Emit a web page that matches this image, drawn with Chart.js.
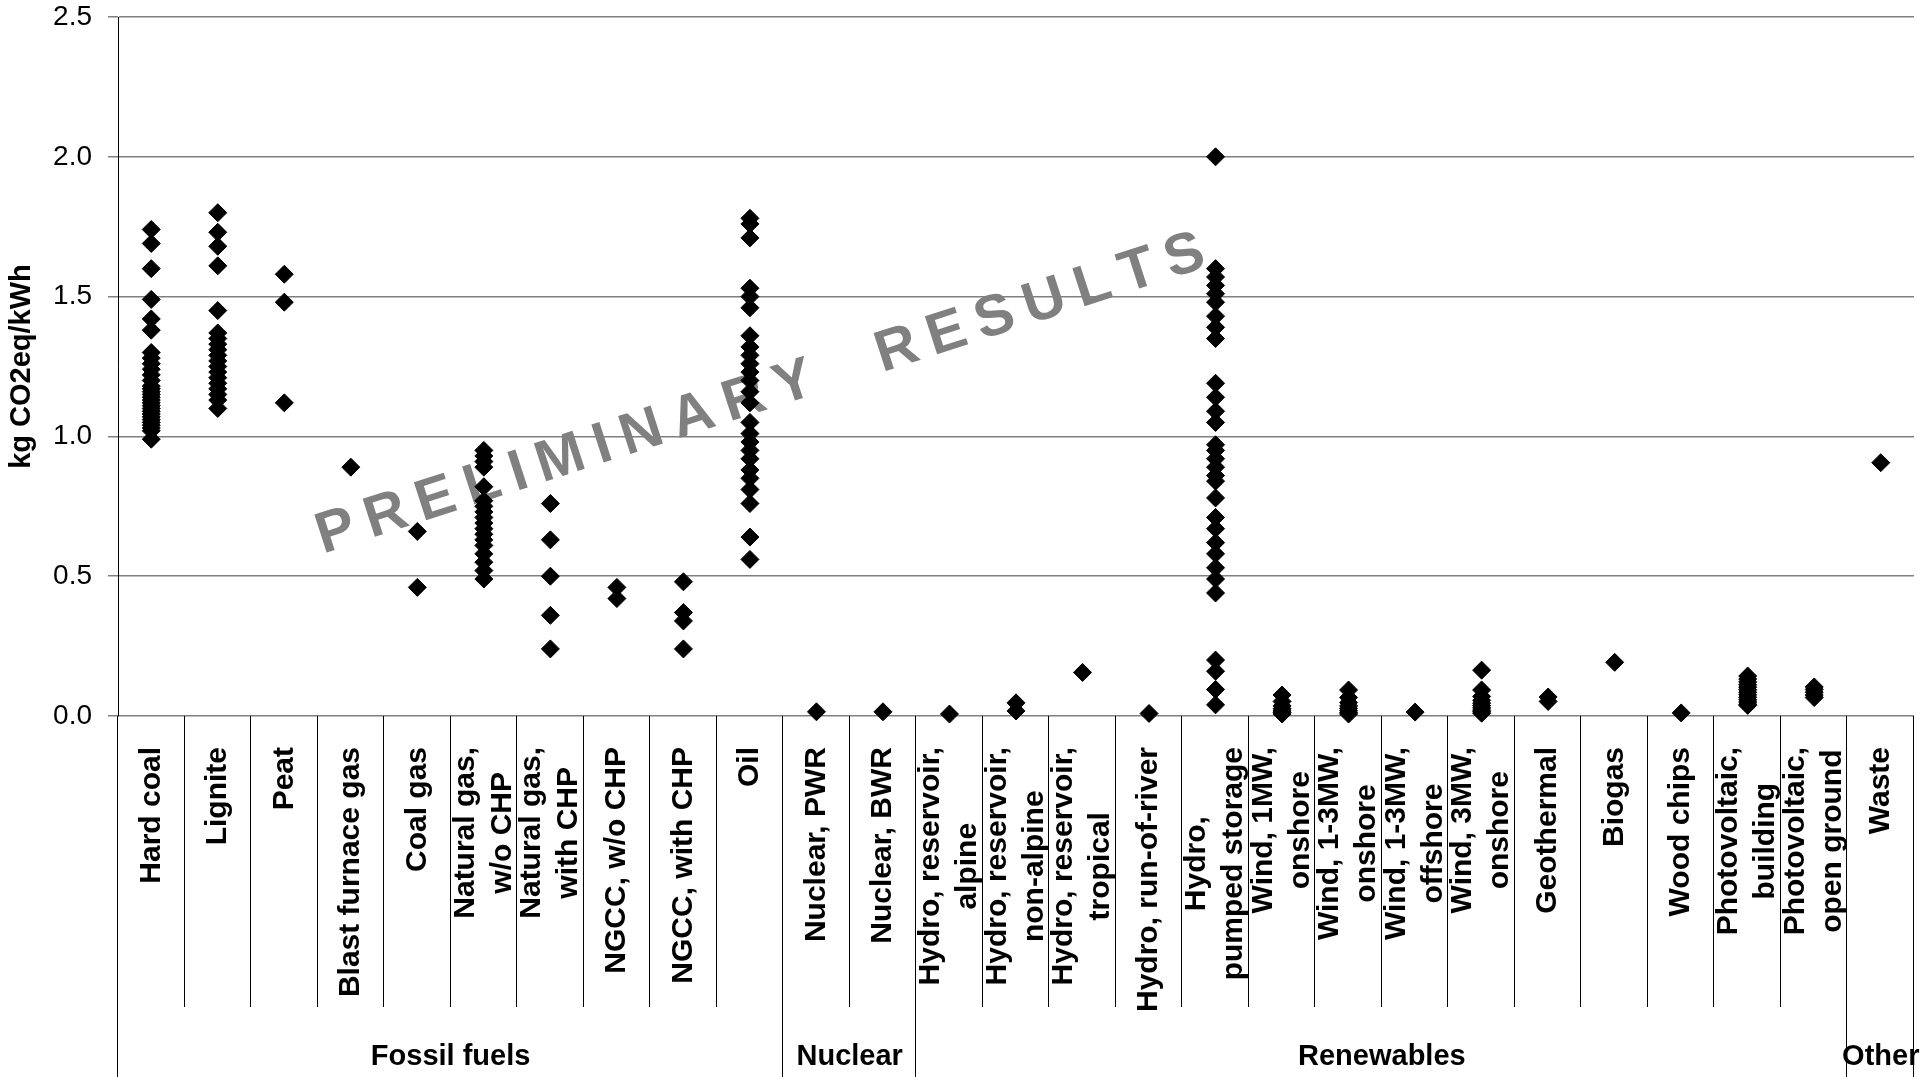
<!DOCTYPE html>
<html><head><meta charset="utf-8">
<script src="https://cdn.jsdelivr.net/npm/chart.js@4.4.1/dist/chart.umd.min.js"></script>
<style>html,body{margin:0;padding:0;background:#fff;overflow:hidden}canvas{display:block}</style>
</head><body>
<canvas id="c" width="1924" height="1077"></canvas>
<script>
const FONT = "'Liberation Sans', Arial, Helvetica, sans-serif";

// ---- categories and tick labels ----
const categories = [
  'Hard coal','Lignite','Peat','Blast furnace gas','Coal gas',
  'Natural gas, w/o CHP','Natural gas, with CHP','NGCC, w/o CHP','NGCC, with CHP','Oil',
  'Nuclear, PWR','Nuclear, BWR',
  'Hydro, reservoir, alpine','Hydro, reservoir, non-alpine','Hydro, reservoir, tropical',
  'Hydro, run-of-river','Hydro, pumped storage','Wind, 1MW, onshore','Wind, 1-3MW, onshore',
  'Wind, 1-3MW, offshore','Wind, 3MW, onshore','Geothermal','Biogas','Wood chips',
  'Photovoltaic, building','Photovoltaic, open ground','Waste'
];
const tickLabels = [
  ['Hard coal'],['Lignite'],['Peat'],['Blast furnace gas'],['Coal gas'],
  ['Natural gas,','w/o CHP'],['Natural gas,','with CHP'],['NGCC, w/o CHP'],['NGCC, with CHP'],['Oil'],
  ['Nuclear, PWR'],['Nuclear, BWR'],
  ['Hydro, reservoir,','alpine'],['Hydro, reservoir,','non-alpine'],['Hydro, reservoir,','tropical'],
  ['Hydro, run-of-river'],['Hydro,','pumped storage'],['Wind, 1MW,','onshore'],['Wind, 1-3MW,','onshore'],
  ['Wind, 1-3MW,','offshore'],['Wind, 3MW,','onshore'],['Geothermal'],['Biogas'],['Wood chips'],
  ['Photovoltaic,','building'],['Photovoltaic,','open ground'],['Waste']
];
const groupNames = ['Fossil fuels','Nuclear','Renewables','Other'];
const groupFirst = [0, 10, 12, 26];
const groupLast  = [9, 11, 25, 26];

const yTicks = [0.0, 0.5, 1.0, 1.5, 2.0, 2.5];

// ---- series values (kg CO2eq/kWh) ----
const hardCoal = [1.74,1.69,1.60,1.49,1.42,1.38,1.30,1.28,1.26,1.24,1.22,1.20,1.18,1.17,1.16,1.15,1.14,1.13,1.12,1.11,1.10,1.09,1.08,1.07,1.06,1.05,1.04,1.03,1.02,0.99];
const lignite = [1.80,1.73,1.68,1.61,1.45,1.37,1.35,1.33,1.31,1.29,1.27,1.25,1.23,1.21,1.19,1.17,1.15,1.13,1.10];
const peat = [1.58,1.48,1.12];
const blastFurnaceGas = [0.89];
const coalGas = [0.66,0.46];
const naturalGasWoCHP = [0.95,0.93,0.91,0.89,0.82,0.77,0.75,0.73,0.71,0.69,0.67,0.65,0.63,0.61,0.58,0.55,0.52,0.49];
const naturalGasWithCHP = [0.76,0.63,0.50,0.36,0.24];
const ngccWoCHP = [0.46,0.42];
const ngccWithCHP = [0.48,0.37,0.34,0.24];
const oil = [1.78,1.76,1.71,1.53,1.50,1.46,1.36,1.32,1.29,1.26,1.23,1.20,1.16,1.12,1.05,1.01,0.98,0.95,0.92,0.88,0.85,0.81,0.76,0.64,0.56];
const nuclearPWR = [0.015];
const nuclearBWR = [0.015];
const hydroAlpine = [0.007];
const hydroNonAlpine = [0.047,0.018];
const hydroTropical = [0.156];
const hydroRunOfRiver = [0.009];
const hydroPumped = [2.00,1.60,1.57,1.54,1.51,1.48,1.43,1.39,1.35,1.19,1.14,1.09,1.05,0.97,0.95,0.92,0.89,0.86,0.84,0.78,0.71,0.67,0.62,0.58,0.53,0.49,0.44,0.20,0.16,0.095,0.04];
const wind1MWOn = [0.075,0.052,0.036,0.026,0.018,0.012,0.007];
const wind13MWOn = [0.093,0.066,0.048,0.036,0.027,0.019,0.012,0.007];
const wind13MWOff = [0.014];
const wind3MWOn = [0.164,0.093,0.070,0.056,0.046,0.037,0.029,0.021,0.015,0.010];
const geothermal = [0.068,0.052];
const biogas = [0.192];
const woodChips = [0.011];
const pvBuilding = [0.143,0.132,0.122,0.112,0.103,0.094,0.085,0.076,0.067,0.058,0.050,0.042,0.038];
const pvOpenGround = [0.104,0.095,0.085,0.075,0.066];
const waste = [0.906];

const seriesValues = [hardCoal,lignite,peat,blastFurnaceGas,coalGas,naturalGasWoCHP,naturalGasWithCHP,
  ngccWoCHP,ngccWithCHP,oil,nuclearPWR,nuclearBWR,hydroAlpine,hydroNonAlpine,hydroTropical,
  hydroRunOfRiver,hydroPumped,wind1MWOn,wind13MWOn,wind13MWOff,wind3MWOn,geothermal,biogas,
  woodChips,pvBuilding,pvOpenGround,waste];

const WM_TEXT = 'PRELIMINARY  RESULTS';

// ---- plugins ----
const watermark = {
  id: 'watermark',
  beforeDatasetsDraw(chart) {
    const ca = chart.chartArea, ctx = chart.ctx;
    const cx = ca.left + 0.357 * (ca.right - ca.left);
    const cy = ca.top + 0.534 * (ca.bottom - ca.top);
    const size = 58, sp = 12;
    ctx.save();
    ctx.font = `bold ${size}px ${FONT}`;
    ctx.fillStyle = '#808080';
    ctx.textAlign = 'left';
    ctx.textBaseline = 'alphabetic';
    const chars = [...WM_TEXT];
    const widths = chars.map(c => ctx.measureText(c).width);
    const total = widths.reduce((a, b) => a + b, 0) + sp * (chars.length - 1);
    ctx.translate(cx, cy);
    ctx.rotate(-18 * Math.PI / 180);
    let x = -total / 2;
    const capH = 0.716 * size;
    chars.forEach((c, k) => { ctx.fillText(c, x, capH / 2); x += widths[k] + sp; });
    ctx.restore();
  }
};

const axisDeco = {
  id: 'axisDeco',
  afterDraw(chart) {
    const ctx = chart.ctx, xs = chart.scales.x, ca = chart.chartArea;
    const H = chart.height;
    const n = categories.length;
    const edges = new Set();
    groupFirst.forEach(g => edges.add(g));
    groupLast.forEach(g => edges.add(g + 1));
    ctx.save();
    ctx.strokeStyle = '#000';
    ctx.lineWidth = 1;
    for (let j = 0; j <= n; j++) {
      const x = Math.round(xs.getPixelForValue(j - 0.5)) - 0.5;
      const yEnd = edges.has(j) ? H : ca.bottom + 291;
      ctx.beginPath();
      ctx.moveTo(x, ca.bottom);
      ctx.lineTo(x, yEnd);
      ctx.stroke();
    }
    // category labels
    ctx.fillStyle = '#000';
    ctx.font = `bold 30px ${FONT}`;
    ctx.textAlign = 'center';
    ctx.textBaseline = 'middle';
    const LH = 37, gap = 31;
    tickLabels.forEach((lines, i) => {
      const cx = xs.getPixelForValue(i);
      const maxW = Math.max(...lines.map(l => ctx.measureText(l).width));
      const yc = ca.bottom + gap + maxW / 2;
      lines.forEach((ln, k) => {
        const x = cx + (k - (lines.length - 1) / 2) * LH;
        ctx.save();
        ctx.translate(x, yc);
        ctx.rotate(-Math.PI / 2);
        ctx.fillText(ln, 0, 0);
        ctx.restore();
      });
    });
    // group labels
    ctx.font = `bold 29px ${FONT}`;
    groupNames.forEach((g, k) => {
      const x = (xs.getPixelForValue(groupFirst[k]) + xs.getPixelForValue(groupLast[k])) / 2;
      ctx.fillText(g, x, ca.bottom + 341);
    });
    ctx.restore();
  }
};

const points = [];
seriesValues.forEach((vals, i) => vals.forEach(v => points.push({ x: categories[i], y: v })));

new Chart(document.getElementById('c'), {
  type: 'line',
  data: {
    labels: categories,
    datasets: [{
      data: points,
      showLine: false,
      clip: false,
      pointStyle: 'rectRot',
      pointRadius: 9,
      pointBackgroundColor: '#000',
      pointBorderColor: '#000',
      pointBorderWidth: 1
    }]
  },
  options: {
    responsive: false,
    animation: false,
    devicePixelRatio: 1,
    events: [],
    layout: { padding: { top: 0, right: 4, left: 0, bottom: 0 } },
    plugins: { legend: { display: false }, tooltip: { enabled: false } },
    scales: {
      x: {
        type: 'category',
        labels: categories,
        offset: true,
        grid: { display: false },
        border: { display: false },
        ticks: { display: false },
        afterFit(s) { s.height = 361; }
      },
      y: {
        min: 0, max: 2.5,
        afterBuildTicks(s) { s.ticks = yTicks.map(v => ({ value: v })); },
        ticks: {
          callback: v => Number(v).toFixed(1),
          font: { family: FONT, size: 28, lineHeight: 1.2 },
          color: '#000',
          padding: 16
        },
        grid: { color: '#808080', lineWidth: 1.5, tickLength: 10, drawTicks: true },
        border: { display: true, color: '#000', width: 1 },
        title: {
          display: true,
          text: 'kg CO2eq/kWh',
          color: '#000',
          font: { family: FONT, size: 29, weight: 'bold', lineHeight: 1.2 },
          padding: { top: 5, bottom: 0 }
        },
        afterFit(s) { s.width = 118; s.paddingTop = 17; s.paddingBottom = 0; }
      }
    }
  },
  plugins: [watermark, axisDeco]
});
</script>
</body></html>
